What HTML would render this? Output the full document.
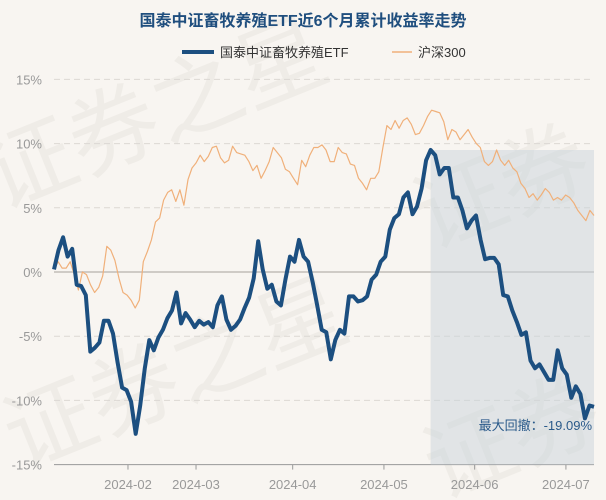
<!DOCTYPE html>
<html><head><meta charset="utf-8"><style>
html,body{margin:0;padding:0;background:#f8f5f1;}
svg{display:block;font-family:"Liberation Sans","Noto Sans CJK SC",sans-serif;}
</style></head><body>
<svg id="chart" width="606" height="500" viewBox="0 0 606 500" xmlns="http://www.w3.org/2000/svg">
<rect width="606" height="500" fill="#f8f5f1"/>
<g fill="#efece7" font-size="90" font-family="'Noto Sans CJK SC',sans-serif">
<text x="0" y="210" transform="rotate(-22 0 210)">证券之星</text>
<text x="20" y="470" transform="rotate(-22 20 470)">证券之星</text>
<text x="430" y="250" transform="rotate(-22 430 250)">证券</text>
<text x="440" y="500" transform="rotate(-22 440 500)">证券</text>
</g>
<text x="303" y="26" text-anchor="middle" font-size="16" font-weight="bold" fill="#1f4e7e">国泰中证畜牧养殖ETF近6个月累计收益率走势</text>
<g>
<line x1="182" y1="52" x2="214" y2="52" stroke="#1c4f80" stroke-width="4"/>
<text x="220" y="57" font-size="13" fill="#333">国泰中证畜牧养殖ETF</text>
<line x1="392" y1="52" x2="412" y2="52" stroke="#f0b07a" stroke-width="1.5"/>
<text x="418" y="57" font-size="13" fill="#333">沪深300</text>
</g>
<g id="grid"></g>
<g id="shade"></g>
<g id="series"></g>
<g id="axes"></g>
<text x="592" y="430" text-anchor="end" font-size="13" fill="#2a5a8a">最大回撤：-19.09%</text>
</svg>
<script>
const yTicks = [15, 10, 5, 0, -5, -10, -15];
const xTickLabels = ["2024-02","2024-03","2024-04","2024-05","2024-06","2024-07"];
const xTickFrac = [0.137, 0.263, 0.442, 0.611, 0.779, 0.948];
const etfValues = [0.2,1.7,2.7,1.2,1.8,-1.0,-1.1,-1.8,-6.2,-5.9,-5.5,-3.8,-3.8,-4.8,-7.0,-9.0,-9.2,-10.1,-12.6,-10.4,-7.5,-5.3,-6.1,-5.1,-4.5,-3.6,-3.0,-1.6,-4.0,-3.2,-3.7,-4.3,-3.8,-4.1,-3.9,-4.3,-2.6,-1.9,-3.7,-4.5,-4.2,-3.7,-2.8,-2.0,-0.5,2.4,0.2,-1.3,-1.0,-2.3,-2.6,-0.6,1.2,0.8,2.5,1.2,0.8,-0.8,-2.6,-4.5,-4.7,-6.8,-5.3,-4.5,-4.8,-1.9,-1.9,-2.3,-2.2,-1.9,-0.6,-0.2,0.8,1.2,3.3,4.2,4.5,5.8,6.2,4.5,5.1,6.5,8.7,9.5,9.1,7.6,8.1,8.1,5.8,5.8,4.8,3.4,4.0,4.4,2.5,1.0,1.1,1.1,0.6,-1.8,-1.9,-3.0,-3.9,-4.9,-4.7,-6.9,-7.5,-7.2,-7.8,-8.4,-8.4,-6.1,-7.5,-8.0,-9.8,-8.9,-9.5,-11.4,-10.4,-10.5];
const hs300Values = [0.2,0.8,0.3,0.3,0.8,-0.2,-1.4,0,-0.2,-1.0,-1.6,-1.2,-0.3,2.0,1.7,0.9,-0.5,-1.6,-1.8,-2.2,-2.8,-2.2,0.8,1.6,2.5,3.9,4.2,5.6,6.2,6.4,5.5,6.4,5.2,7.2,8.1,8.5,9.1,8.6,9.0,9.7,9.8,8.9,8.5,8.7,9.8,9.3,9.2,9.1,8.6,7.9,8.3,7.3,7.9,8.6,9.7,9.3,8.9,8.0,7.8,7.3,6.8,8.7,8.2,9.1,9.7,9.7,9.9,9.5,8.6,8.6,9.7,9.3,9.2,8.4,8.3,7.3,6.9,6.4,7.3,7.3,7.8,9.7,11.4,11.1,11.8,11.2,11.8,12.0,11.5,10.7,10.8,11.4,12.1,12.6,12.5,12.4,11.7,10.3,11.1,10.9,10.3,10.7,11.1,10.5,10.0,9.7,8.6,8.3,8.6,9.5,8.7,8.3,8.7,8.1,7.8,6.9,6.5,5.8,6.1,5.6,6.0,6.5,6.2,5.6,5.8,5.6,6.0,5.8,5.4,4.8,4.4,4.0,4.8,4.4];

const NS="http://www.w3.org/2000/svg";
const X0=54, X1=594, Y0=272, PER=12.84;
function yScale(v){return Y0 - v*PER;}
function xScale(i,n){return X0 + (X1-X0)*i/(n-1);}
function mk(tag,attrs,parent){const e=document.createElementNS(NS,tag);for(const k in attrs)e.setAttribute(k,attrs[k]);parent.appendChild(e);return e;}

const grid=document.getElementById('grid');
yTicks.forEach(t=>{
  const y=yScale(t);
  let ln;
  if(t===0) ln=mk('line',{x1:X0,x2:X1,y1:y,y2:y,stroke:'#cfcbc6','stroke-width':2},grid);
  else if(t===-15) ln=mk('line',{x1:X0,x2:X1,y1:y,y2:y,stroke:'#999','stroke-width':1},grid);
  else ln=mk('line',{x1:X0,x2:X1,y1:y,y2:y,stroke:'#dcd8d3','stroke-width':1,'stroke-dasharray':'6,4'},grid);
  
  
  const tx=mk('text',{x:42,y:y+5,'text-anchor':'end','font-size':13,fill:'#999'},grid);
  tx.textContent=t+'%';
  
  
});
const axes=document.getElementById('axes');
xTickLabels.forEach((lab,i)=>{
  const x=X0+(X1-X0)*xTickFrac[i];
  const tk=mk('line',{x1:x,x2:x,y1:yScale(-15),y2:yScale(-15)+5,stroke:'#999'},axes);
  
  
  const tx=mk('text',{x:x,y:489,'text-anchor':'middle','font-size':13,fill:'#999'},axes);
  tx.textContent=lab;
  
  
});

const n=etfValues.length;
let peak=0;
for(let i=0;i<n;i++) if(etfValues[i]>etfValues[peak]) peak=i;
const shade=mk('rect',{x:xScale(peak,n),y:yScale(etfValues[peak]),width:xScale(n-1,n)-xScale(peak,n),height:yScale(-15)-yScale(etfValues[peak]),fill:'#c9d3dc','fill-opacity':0.5},document.getElementById('shade'));



const series=document.getElementById('series');
function path(vals){return vals.map((v,i)=>(i?'L':'M')+xScale(i,vals.length).toFixed(1)+','+yScale(v).toFixed(1)).join(' ');}
const hp=mk('path',{d:path(hs300Values),fill:'none',stroke:'#f0b07a','stroke-width':1.2,'stroke-linejoin':'round'},series);


const ep=mk('path',{d:path(etfValues),fill:'none',stroke:'#1c4f80','stroke-width':4,'stroke-linejoin':'round'},series);


</script>
</body></html>
